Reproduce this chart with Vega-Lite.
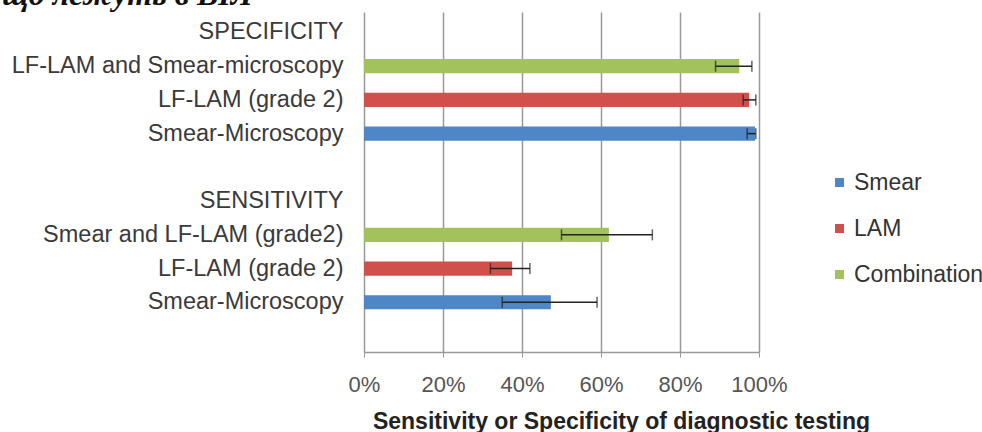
{
  "$schema": "https://vega.github.io/schema/vega-lite/v6.json",
  "autosize": {"type": "none"},
  "padding": {"left": 364, "top": 12, "right": 223, "bottom": 80},
  "width": 395,
  "height": 340,
  "background": "white",
  "title": {
    "text": "що лежуть в ВІЛ",
    "anchor": "start",
    "frame": "group",
    "dx": -362,
    "offset": -25,
    "baseline": "alphabetic",
    "font": "Liberation Serif",
    "fontSize": 32,
    "fontStyle": "italic",
    "fontWeight": "bold",
    "color": "#111"
  },
  "config": {
    "view": {"stroke": null},
    "font": "Liberation Sans"
  },
  "data": {
    "values": [
      {"row": "2|LF-LAM and Smear-microscopy", "test": "Combination", "value": 0.95, "lo": 0.89, "hi": 0.982},
      {"row": "3|LF-LAM (grade 2)", "test": "LAM", "value": 0.975, "lo": 0.96, "hi": 0.992},
      {"row": "4|Smear-Microscopy", "test": "Smear", "value": 0.99, "lo": 0.97, "hi": 0.992},
      {"row": "7|Smear and LF-LAM (grade2)", "test": "Combination", "value": 0.62, "lo": 0.50, "hi": 0.73},
      {"row": "8|LF-LAM (grade 2)", "test": "LAM", "value": 0.375, "lo": 0.32, "hi": 0.42},
      {"row": "9|Smear-Microscopy", "test": "Smear", "value": 0.473, "lo": 0.35, "hi": 0.59}
    ]
  },
  "encoding": {
    "y": {
      "field": "row",
      "type": "nominal",
      "scale": {
        "domain": ["1|SPECIFICITY", "2|LF-LAM and Smear-microscopy", "3|LF-LAM (grade 2)", "4|Smear-Microscopy", "5|", "6|SENSITIVITY", "7|Smear and LF-LAM (grade2)", "8|LF-LAM (grade 2)", "9|Smear-Microscopy", "10|"],
        "paddingInner": 0.58,
        "paddingOuter": 0.33,
        "align": 0.6
      },
      "axis": {
        "title": null,
        "domain": false,
        "ticks": false,
        "labelPadding": 21,
        "labelFontSize": 23.5,
        "labelLimit": 400,
        "labelColor": "#3a3a3a",
        "labelExpr": "substring(datum.value, indexof(datum.value, '|') + 1)"
      }
    }
  },
  "layer": [
    {
      "mark": {"type": "bar"},
      "encoding": {
        "x": {
          "field": "value",
          "type": "quantitative",
          "scale": {"domain": [0, 1]},
          "axis": {
            "format": ".0%",
            "values": [0, 0.2, 0.4, 0.6, 0.8, 1],
            "grid": true,
            "gridColor": "#999",
            "gridWidth": 1.5,
            "domainColor": "#999",
            "domainWidth": 1.5,
            "tickColor": "#999",
            "tickSize": 5,
            "labelFontSize": 22,
            "labelColor": "#555",
            "labelPadding": 17,
            "labelFlush": false,
            "title": "Sensitivity or Specificity of diagnostic testing",
            "titleFontSize": 23,
            "titleFontWeight": "bold",
            "titleColor": "#222",
            "titlePadding": 15,
            "titleX": 257,
            "titleAlign": "center"
          }
        },
        "color": {
          "field": "test",
          "type": "nominal",
          "scale": {"domain": ["Smear", "LAM", "Combination"], "range": ["#4f86c6", "#d0504c", "#a2c25c"]},
          "legend": {
            "title": null,
            "orient": "none",
            "legendX": 464,
            "legendY": 159,
            "symbolType": "square",
            "symbolSize": 81,
            "symbolStrokeWidth": 0,
            "labelFontSize": 23,
            "labelColor": "#333",
            "labelOffset": 3,
            "rowPadding": 22
          }
        }
      }
    },
    {
      "mark": {"type": "rule", "color": "#222", "strokeWidth": 1.5},
      "encoding": {
        "x": {"field": "lo", "type": "quantitative"},
        "x2": {"field": "hi"}
      }
    },
    {
      "mark": {"type": "tick", "color": "#222", "thickness": 1.5, "size": 11},
      "encoding": {"x": {"field": "lo", "type": "quantitative"}}
    },
    {
      "mark": {"type": "tick", "color": "#222", "thickness": 1.5, "size": 11},
      "encoding": {"x": {"field": "hi", "type": "quantitative"}}
    }
  ]
}
